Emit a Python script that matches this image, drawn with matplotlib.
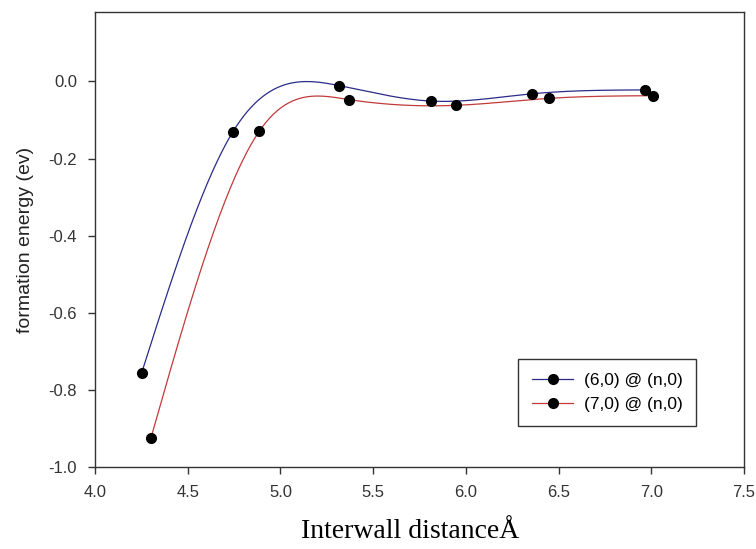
import numpy as np
import matplotlib.pyplot as plt

# interwall distance (A) and formation energy (ev) for the two tube series
x_60 = [4.252, 4.743, 5.318, 5.812, 6.359, 6.967]
e_60 = [-0.755, -0.131, -0.011, -0.051, -0.032, -0.022]
x_70 = [4.302, 4.886, 5.368, 5.947, 6.447, 7.011]
e_70 = [-0.924, -0.129, -0.047, -0.062, -0.044, -0.037]
labels = ["(6,0) @ (n,0)", "(7,0) @ (n,0)"]
xticks = [4.0, 4.5, 5.0, 5.5, 6.0, 6.5, 7.0, 7.5]
yticks = [-1.0, -0.8, -0.6, -0.4, -0.2, 0.0]


def natural_spline(x, y, n=400):
    # natural cubic spline through the points, for the smooth connecting line
    x = np.asarray(x, float)
    y = np.asarray(y, float)
    k = len(x)
    h = np.diff(x)
    A = np.zeros((k, k))
    b = np.zeros(k)
    A[0, 0] = A[-1, -1] = 1
    for i in range(1, k - 1):
        A[i, i - 1] = h[i - 1]
        A[i, i] = 2 * (h[i - 1] + h[i])
        A[i, i + 1] = h[i]
        b[i] = 3 * ((y[i + 1] - y[i]) / h[i] - (y[i] - y[i - 1]) / h[i - 1])
    c = np.linalg.solve(A, b)
    xs = np.linspace(x[0], x[-1], n)
    idx = np.clip(np.searchsorted(x, xs) - 1, 0, k - 2)
    hi = h[idx]
    bi = (y[idx + 1] - y[idx]) / hi - hi * (2 * c[idx] + c[idx + 1]) / 3
    di = (c[idx + 1] - c[idx]) / (3 * hi)
    t = xs - x[idx]
    ys = y[idx] + bi * t + c[idx] * t ** 2 + di * t ** 3
    return xs, ys


plt.rcParams['font.family'] = ['Liberation Sans', 'DejaVu Sans']
plt.rcParams['axes.unicode_minus'] = False

fig = plt.figure(figsize=(7.56, 5.49), dpi=100)
ax = fig.add_axes([0.1257, 0.1494, 0.8585, 0.8287])

colors = ["#2b2b8a", "#c23a3a"]
for xs, es, col, lab in [(x_60, e_60, colors[0], labels[0]),
                         (x_70, e_70, colors[1], labels[1])]:
    sx, sy = natural_spline(xs, es)
    ax.plot(sx, sy, color=col, lw=0.9)
    ax.plot(xs, es, 'o', color='black', ms=7, zorder=3)
    # legend entry: line + marker
    ax.plot([], [], color=col, lw=0.9, marker='o', mfc='black', mec='black',
            ms=7, label=lab)

ax.set_xlim(4.0, 7.5)
ax.set_ylim(-1.0, 0.18)
ax.set_xticks(xticks)
ax.set_yticks(yticks)
ax.set_xticklabels([f"{v:.1f}" for v in xticks])
ax.set_yticklabels([f"{v:.1f}" for v in yticks])
ax.tick_params(direction='out', length=5, width=1, labelsize=12,
               colors='#333333', pad=8)
for s in ax.spines.values():
    s.set_color('#333333')
    s.set_linewidth(1)

ax.set_ylabel("formation energy (ev)", fontsize=14, color='#222222', labelpad=10)
fig.text(0.542, 0.02, "Interwall distanceÅ", family='Liberation Serif',
         fontsize=20, ha='center', va='baseline')

leg = ax.legend(loc='upper left', bbox_to_anchor=(0.685, 0.346),
                bbox_transform=fig.transFigure, fontsize=12.5, frameon=True,
                fancybox=False, handlelength=2.4, handletextpad=0.6,
                borderpad=0.8, labelspacing=0.5, borderaxespad=0)
leg.get_frame().set_edgecolor('black')
leg.get_frame().set_linewidth(1)

fig.savefig("out.png", dpi=100)
